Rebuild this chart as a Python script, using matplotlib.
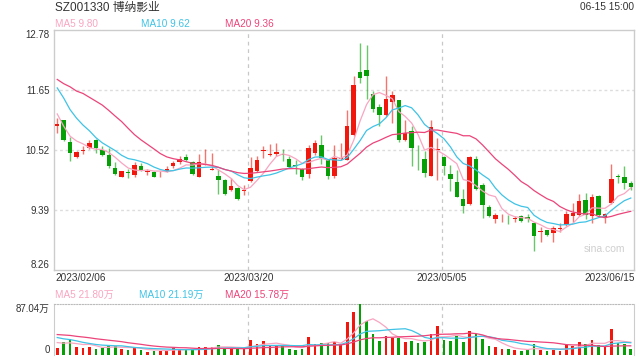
import numpy as np
import pandas as pd
import matplotlib
matplotlib.use('Agg')
import matplotlib.pyplot as plt

plt.rcParams['font.family'] = ['Liberation Sans', 'Noto Sans CJK SC', 'DejaVu Sans']

# 日K数据 2023/02/06 - 2023/06/15
opens = [10.97, 11.07, 10.67, 10.37, 10.49, 10.55, 10.69, 10.52, 10.42, 10.18,
         10.01, 10.09, 10.04, 10.21, 10.10, 10.10, 10.07, 10.09, 10.20, 10.28,
         10.37, 10.29, 10.01, 10.23, 10.14, 10.02, 9.95, 9.75, 9.79, 9.74,
         9.92, 10.11, 10.50, 10.42, 10.44, 10.44, 10.35, 10.22, 10.15, 10.05,
         10.46, 10.61, 10.32, 10.03, 10.34, 10.33, 10.80, 11.98, 12.02, 11.57,
         11.32, 11.17, 11.41, 11.45, 10.69, 10.86, 10.40, 10.35, 10.03, 10.52,
         10.38, 10.06, 9.91, 9.59, 9.50, 10.34, 9.86, 9.43, 9.22, 9.24,
         9.25, 9.22, 9.26, 9.25, 9.13, 8.96, 9.00, 8.94, 9.02, 9.09,
         9.27, 9.29, 9.57, 9.27, 9.65, 9.24, 9.51, 10.02, 10.01, 9.88]
closes = [11.00, 10.69, 10.45, 10.48, 10.51, 10.64, 10.55, 10.42, 10.20, 10.05,
          10.11, 10.08, 10.23, 10.14, 10.11, 10.01, 10.08, 10.15, 10.26, 10.34,
          10.32, 10.06, 10.28, 10.24, 10.15, 9.95, 9.69, 9.84, 9.58, 9.76,
          10.18, 10.33, 10.52, 10.43, 10.48, 10.42, 10.19, 10.21, 10.00, 10.55,
          10.65, 10.36, 10.03, 10.36, 10.36, 10.97, 11.74, 11.86, 11.90, 11.29,
          11.17, 11.48, 11.54, 10.69, 10.83, 10.55, 10.39, 10.08, 10.95, 10.53,
          10.20, 9.96, 9.63, 9.45, 10.37, 9.77, 9.47, 9.26, 9.29, 9.25,
          9.24, 9.23, 9.18, 9.22, 8.89, 8.99, 8.91, 9.05, 9.03, 9.31,
          9.33, 9.55, 9.29, 9.63, 9.28, 9.31, 9.97, 10.01, 9.88, 9.81]
highs = [11.11, 11.07, 10.76, 10.50, 10.58, 10.69, 10.71, 10.58, 10.55, 10.28,
         10.12, 10.15, 10.28, 10.27, 10.15, 10.11, 10.12, 10.21, 10.31, 10.39,
         10.44, 10.30, 10.43, 10.53, 10.45, 10.15, 9.97, 9.99, 9.81, 9.85,
         10.38, 10.39, 10.58, 10.62, 10.64, 10.53, 10.40, 10.33, 10.17, 10.61,
         10.70, 10.80, 10.33, 10.60, 10.64, 11.27, 11.90, 12.53, 12.48, 11.63,
         11.37, 11.91, 11.62, 11.46, 11.08, 10.96, 10.61, 10.49, 11.08, 10.74,
         10.40, 10.23, 10.14, 9.78, 10.39, 10.39, 9.89, 9.48, 9.32, 9.31,
         9.28, 9.27, 9.29, 9.31, 9.14, 9.06, 9.00, 9.07, 9.13, 9.37,
         9.51, 9.68, 9.70, 9.68, 9.66, 9.32, 10.24, 10.06, 10.20, 9.93]
lows = [10.83, 10.68, 10.31, 10.36, 10.44, 10.53, 10.45, 10.39, 10.17, 10.04,
        10.01, 9.99, 10.01, 10.11, 10.04, 10.00, 10.00, 10.09, 10.17, 10.24,
        10.30, 10.04, 10.00, 10.22, 10.13, 9.69, 9.67, 9.74, 9.56, 9.67,
        9.90, 10.09, 10.36, 10.39, 10.40, 10.31, 10.17, 10.06, 9.94, 9.99,
        10.42, 10.25, 9.97, 9.99, 10.33, 10.32, 10.78, 11.78, 11.47, 11.23,
        10.96, 11.15, 11.02, 10.67, 10.68, 10.20, 10.14, 10.00, 10.02, 9.95,
        10.04, 9.73, 9.63, 9.33, 9.48, 9.75, 9.23, 9.25, 9.13, 9.16,
        9.11, 9.16, 9.16, 9.15, 8.60, 8.78, 8.89, 8.78, 8.97, 9.08,
        9.16, 9.27, 9.21, 9.13, 9.27, 9.13, 9.50, 9.89, 9.78, 9.76]
# 成交量(万手)
volumes = [12.6, 22.9, 26.9, 14.3, 12.6, 14.3, 10.9, 12.6, 15.5, 15.5,
           10.9, 9.2, 12.6, 8.6, 5.7, 7.4, 7.4, 8.6, 12.6, 8.6,
           9.7, 9.7, 13.7, 13.7, 13.7, 17.2, 10.9, 12.6, 10.9, 10.9,
           25.8, 19.5, 24.0, 16.0, 16.0, 16.0, 10.9, 9.2, 10.9, 30.9,
           18.9, 21.2, 20.0, 22.9, 17.2, 55.5, 72.7, 87.04, 57.3, 36.1,
           24.6, 32.6, 29.8, 29.8, 22.9, 24.6, 20.0, 22.9, 36.6, 49.8,
           25.8, 24.6, 32.6, 22.9, 41.2, 36.1, 27.5, 15.5, 13.7, 10.9,
           10.9, 8.6, 7.4, 8.6, 18.9, 8.6, 7.4, 8.6, 7.4, 17.2,
           15.5, 22.9, 18.9, 25.8, 16.6, 15.5, 44.7, 20.0, 18.9, 10.3]
# 窗口之前的19个交易日(用于均线起点)
prior_closes = [12.29, 11.65, 12.08, 11.40, 12.10, 12.00, 11.90, 12.20, 12.20, 12.18,
                12.59, 12.65, 12.08, 11.81, 11.72, 11.84, 11.40, 10.93, 10.78]
prior_volumes = [38, 42, 45, 36, 40, 44, 38, 41, 39, 37,
                 45, 40, 36, 38, 33, 28, 24, 21, 20.4]

date_labels = ['2023/02/06', '2023/03/20', '2023/05/05', '2023/06/15']
date_index = [0, 30, 60, 89]
price_ticks = [12.78, 11.65, 10.52, 9.39, 8.26]
vol_max = 87.04
ma_labels = ['MA5 9.80', 'MA10 9.62', 'MA20 9.36']
vma_labels = ['MA5 21.80万', 'MA10 21.19万', 'MA20 15.78万']

RED = '#f2170c'
GREEN = '#06a006'
C_MA5 = '#f9a5c1'
C_MA10 = '#3fc3e6'
C_MA20 = '#ec447a'
TXT = '#333333'
BORDER = '#cccccc'

n = len(closes)
x = np.arange(n)
o = np.array(opens); c = np.array(closes); h = np.array(highs); l = np.array(lows)
up = c >= o
cols = np.where(up, RED, GREEN)

all_c = pd.Series(prior_closes + closes)
all_v = pd.Series(prior_volumes + volumes)
ma = {k: all_c.rolling(k).mean().values[-n:] for k in (5, 10, 20)}
vma = {k: all_v.rolling(k).mean().values[-n:] for k in (5, 10, 20)}

fig = plt.figure(figsize=(6.4, 3.6), dpi=100)
ax = fig.add_axes([54 / 640, 1 - 269.5 / 360, 580 / 640, 240 / 360])
axv = fig.add_axes([54 / 640, 1 - 355 / 360, 580 / 640, 51 / 360])

# K线
ax.vlines(x, l, h, colors=cols, linewidth=1, alpha=0.6, zorder=3)
body = np.maximum(np.abs(c - o), 0.015)
ax.bar(x, body, bottom=np.minimum(o, c), width=0.7, color=cols, linewidth=0, zorder=4)

for k, col in ((5, C_MA5), (10, C_MA10), (20, C_MA20)):
    ax.plot(x, ma[k], color=col, linewidth=0.9, zorder=5)

ax.set_xlim(-0.5, n - 0.5)
ax.set_ylim(price_ticks[-1], price_ticks[0])
for p in price_ticks[1:-1]:
    ax.axhline(p, color='#dddddd', linewidth=1, linestyle=(0, (2, 2)), zorder=1)
for i in date_index[1:3]:
    for a in (ax, axv):
        a.axvline(i - 0.35, color='#c8c8c8', linewidth=0.9, linestyle=(0, (3, 3)), zorder=1)

ax.set_xticks([])
ax.set_yticks(price_ticks)
ax.set_yticklabels([f'{p:.2f}' for p in price_ticks])
ax.tick_params(axis='y', length=0, pad=3, labelsize=7, labelcolor=TXT)
tl = ax.get_yticklabels()
tl[0].set_va('top')
tl[-1].set_va('bottom')
for s in ax.spines.values():
    s.set_color(BORDER)
    s.set_linewidth(1)

ax.text(0.985, 0.085, 'sina.com', transform=ax.transAxes, ha='right', va='center',
        fontsize=7.5, color='#cfcfcf')

# 成交量
axv.bar(x, volumes, width=0.4, color=cols, linewidth=0, zorder=3)
for k, col in ((5, C_MA5), (10, C_MA10), (20, C_MA20)):
    axv.plot(x, vma[k], color=col, linewidth=0.9, zorder=4)
axv.set_xlim(-0.5, n - 0.5)
axv.set_ylim(0, vol_max)
axv.set_xticks([])
axv.set_yticks([0, vol_max])
axv.set_yticklabels(['0', f'{vol_max:.2f}万'])
axv.tick_params(axis='y', length=0, pad=3, labelsize=7, labelcolor=TXT)
vl = axv.get_yticklabels()
vl[0].set_va('bottom')
vl[1].set_va('top')
axv.spines['top'].set_linestyle((0, (1, 1.5)))
axv.spines['top'].set_color('#bbbbbb')
axv.spines['bottom'].set_visible(False)
for s in ('left', 'right'):
    axv.spines[s].set_color(BORDER)

# 文字
fig.text(55 / 640, 1 - 7.5 / 360, 'SZ001330 博纳影业', fontsize=8.5, color=TXT, va='center')
fig.text(634 / 640, 1 - 7.5 / 360, '06-15 15:00', fontsize=7.3, color=TXT, va='center', ha='right')
ma_cols = [C_MA5, C_MA10, C_MA20]
for lab, px, col in zip(ma_labels, [55, 141, 225], ma_cols):
    fig.text(px / 640, 1 - 24 / 360, lab, fontsize=7.2, color=col, va='center')
for lab, px, col in zip(vma_labels, [55, 139, 225], ma_cols):
    fig.text(px / 640, 1 - 295 / 360, lab, fontsize=7.2, color=col, va='center')

date_px = [55, 248.5, 441.5, 635]
date_ha = ['left', 'center', 'center', 'right']
for lab, px, ha in zip(date_labels, date_px, date_ha):
    fig.text(px / 640, 1 - 278 / 360, lab, fontsize=7.2, color=TXT, va='center', ha=ha)

fig.savefig('out.png', dpi=100)
